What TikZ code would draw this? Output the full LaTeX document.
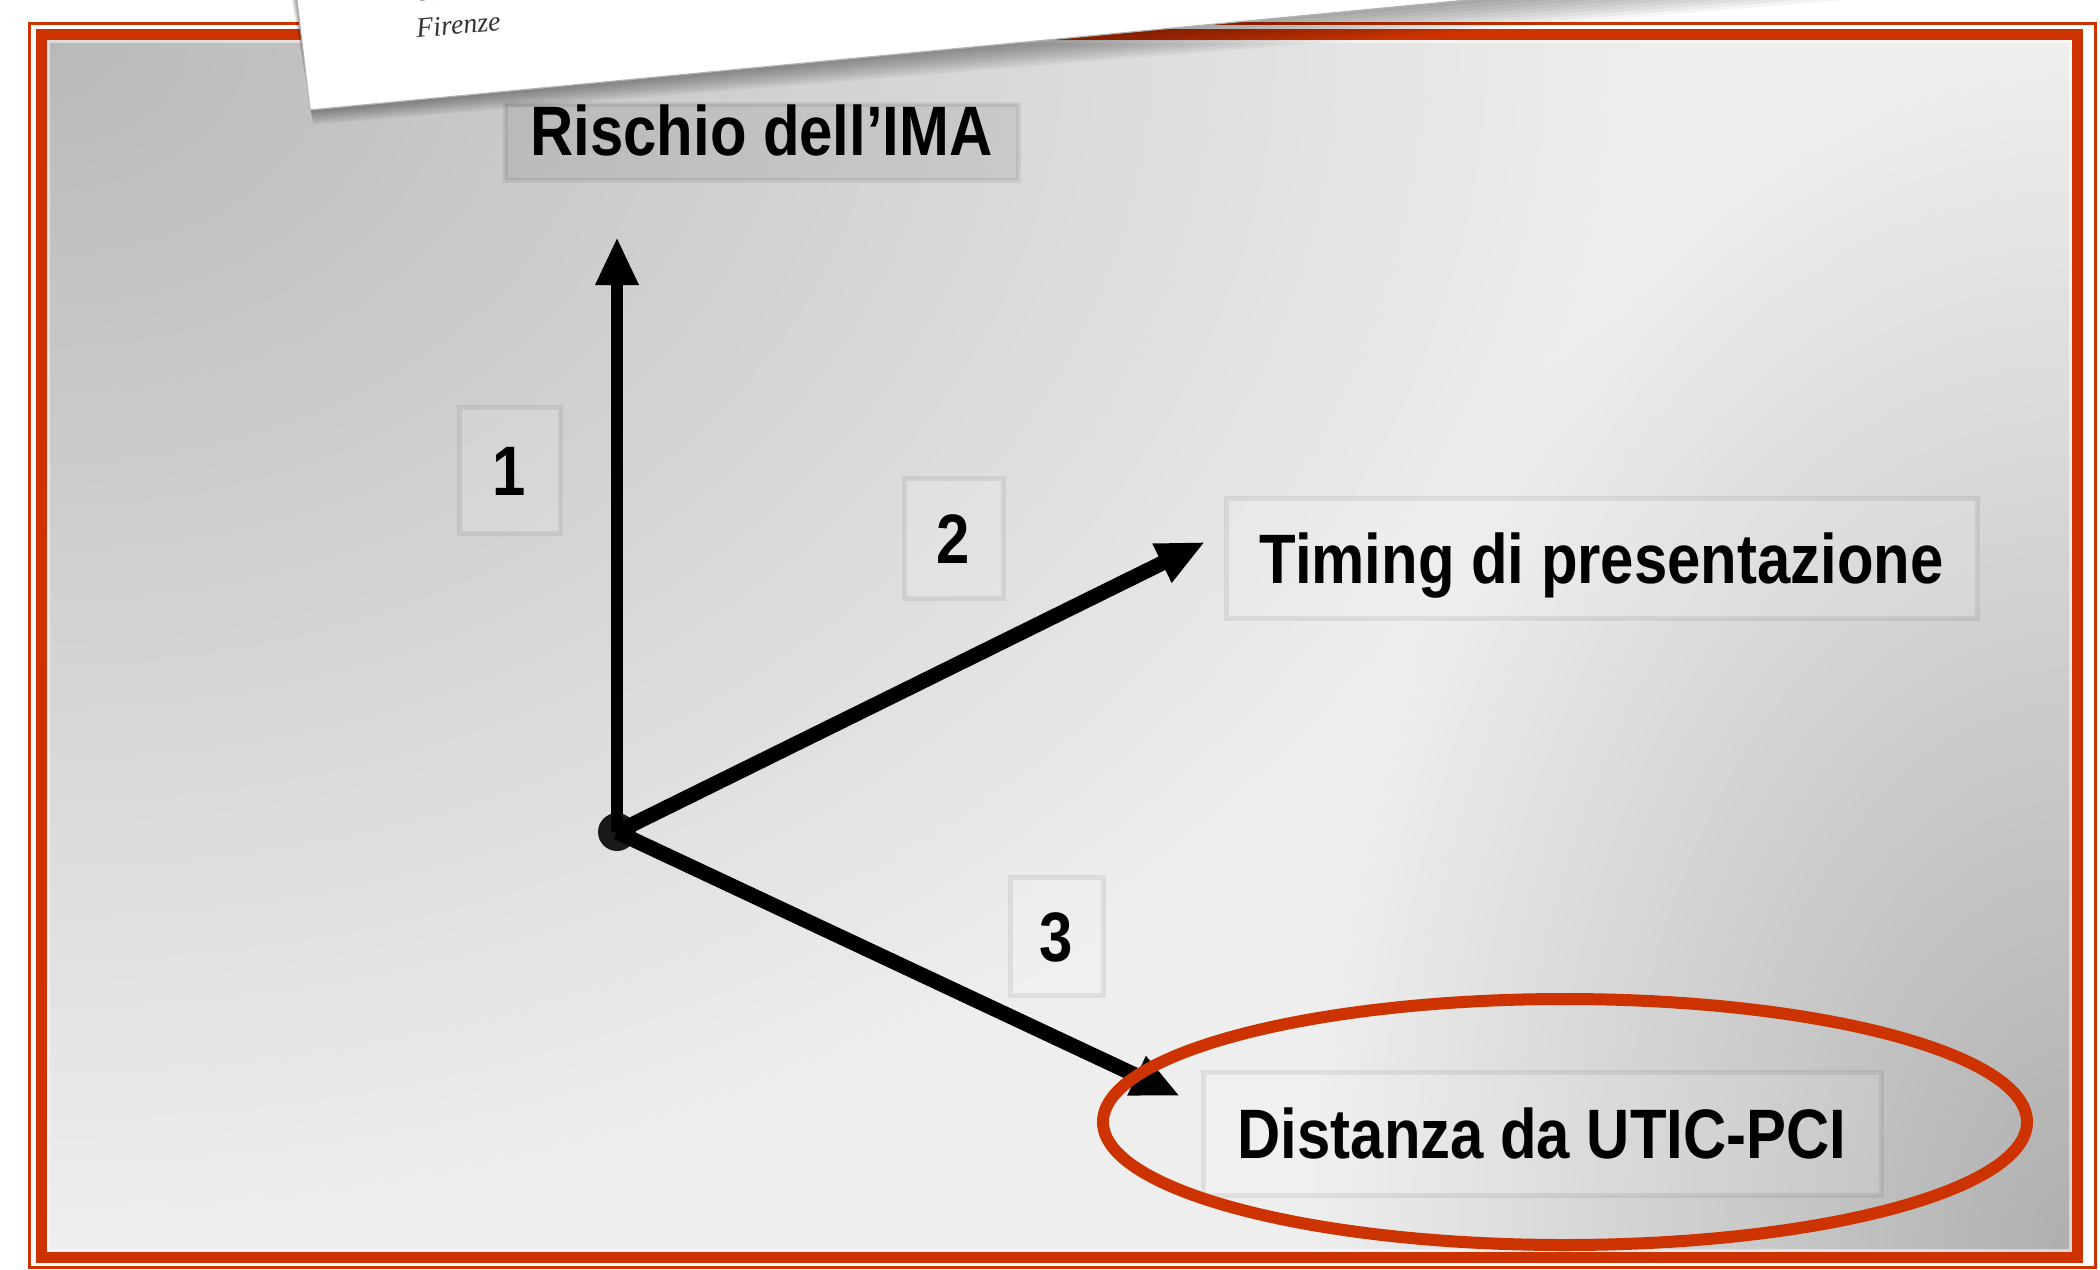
\documentclass[tikz,border=0pt]{standalone}
\usepackage{fontspec}
\setmainfont{Liberation Sans}
\newfontfamily\paperfont{Liberation Serif}
\usepackage{graphicx}
\usetikzlibrary{arrows.meta}
\definecolor{framered}{HTML}{CC3300}
\pgfdeclarefunctionalshading{bgfun}{\pgfpoint{0bp}{0bp}}{\pgfpoint{100bp}{100bp}}{}{
 25 sub 50 div exch 25 sub 50 div
 2 copy 0.8 div dup mul exch 1 exch sub dup mul add sqrt
 1 exch sub dup 0 lt {pop 0} if 0.21 mul
 3 1 roll
 1 exch sub 0.38 div dup mul exch 1.0 div dup mul add sqrt
 1 exch sub dup 0 lt {pop 0} if 0.25 mul
 add 0.935 exch sub dup dup
}
\begin{document}
\begin{tikzpicture}[x=1pt,y=-1pt,
  lbox/.style={draw=black, draw opacity=0.07, line width=5pt, fill=white, fill opacity=0.12,
    text opacity=1, inner sep=0pt, outer sep=0pt, text height=50pt, text depth=0pt,
    font=\bfseries\fontsize{70}{80}\selectfont},
  axisarrow/.style={line width=13pt, -{Triangle[length=48pt,width=40pt]}},
  paperlbl/.style={font=\paperfont\itshape\fontsize{28}{32}\selectfont, text=black!80,
    rotate=5.3, anchor=base west, inner sep=0pt}
]
\useasboundingbox (0,0) rectangle (2100,1269);
\clip (0,0) rectangle (2100,1269);
\fill[white] (0,0) rectangle (2100,1269);
% background
\shade[shading=bgfun] (47,40) rectangle (2072,1252);
% frame
\draw[framered, line width=3pt] (29,23) rectangle (2095,1267);
\draw[framered, line width=11pt] (41.5,34.5) rectangle (2077,1257.5);
\draw[white, opacity=0.5, line width=3pt] (48.5,41.5) rectangle (2070.5,1250.5);
% label boxes
\node[lbox, minimum width=513pt, minimum height=76pt, text depth=24pt, fill=black, fill opacity=0.07]
  (ima) at (761.5,142) {\scalebox{0.855}[1]{Rischio dell’IMA}};
\node[lbox, minimum width=101pt, minimum height=126pt] (n1) at (509.5,470) {\scalebox{0.855}[1]{1}};
\node[lbox, minimum width=99pt, minimum height=120pt] (n2) at (953.5,538) {\scalebox{0.855}[1]{2}};
\node[lbox, minimum width=93pt, minimum height=118pt] (n3) at (1056.5,936) {\scalebox{0.855}[1]{3}};
\node[lbox, minimum width=751pt, minimum height=120pt] (timing) at (1601.5,558)
  {\scalebox{0.855}[1]{Timing di presentazione}};
\node[lbox, minimum width=678pt, minimum height=123pt] (dist) at (1542,1133.5)
  {\scalebox{0.855}[1]{Distanza da UTIC-PCI}};
% axes
\node[circle, fill=black!90, minimum size=38pt, inner sep=0pt] (o) at (617,832) {};
\coordinate (t1) at (617,237);
\coordinate (t2) at (1205,542);
\coordinate (t3) at (1180,1096);
\draw[axisarrow, line width=12pt] (o.center) -- (t1);
\draw[axisarrow, line width=15pt] (o.center) -- (t2);
\draw[axisarrow, line width=15pt] (o.center) -- (t3);
% paper sheet with soft shadow
\foreach \i in {1,...,9}{
  \fill[black, opacity=0.045] ({297-0.6*\i},0) -- ({310+0.4*\i},{110+1.6*\i}) -- ({1468+42*\i},0) -- cycle;
}
\fill[white] (297,0) -- (310,110) -- (1468,0) -- cycle;
\draw[black!30, line width=1.2pt] (297,0) -- (310,110) -- (1468,0);
\node[paperlbl] (uo) at (414,2) {U.O.C.};
\node[paperlbl] (firenze) at (417,38) {Firenze};
% highlight ellipse
\draw[framered, line width=12pt] (1565,1122) ellipse [x radius=462pt, y radius=123pt];
\end{tikzpicture}
\end{document}
